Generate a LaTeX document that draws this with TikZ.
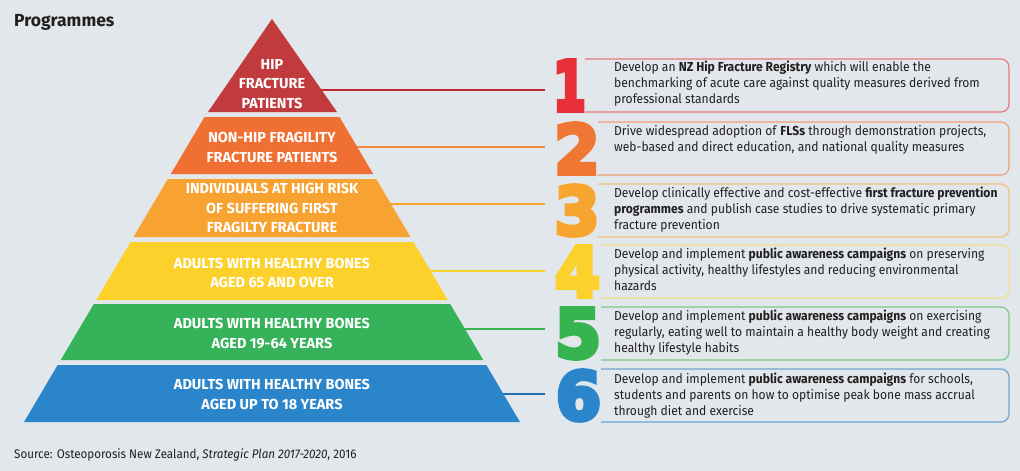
\documentclass[tikz,border=0pt]{standalone}
\usepackage{fontspec}
\setmainfont{Fira Sans}
\newfontfamily\bodyfont[FakeStretch=0.93]{Fira Sans}
\newfontfamily\tierfont{Fira Sans}
\newfontfamily\numfont[BoldFeatures={FakeBold=7}]{DejaVu Sans}
\definecolor{bg}{HTML}{E1E7EA}
\definecolor{ink}{HTML}{231F20}
\definecolor{tA}{HTML}{C13A3E}
\definecolor{tB}{HTML}{F07034}
\definecolor{tC}{HTML}{F7A231}
\definecolor{tD}{HTML}{FDD12B}
\definecolor{tE}{HTML}{36B25A}
\definecolor{tF}{HTML}{2A85CA}
\definecolor{nA}{HTML}{E8303A}
\definecolor{nB}{HTML}{F07634}
\definecolor{nC}{HTML}{F8A52F}
\definecolor{nD}{HTML}{FDD12B}
\definecolor{nE}{HTML}{35B44F}
\definecolor{nF}{HTML}{2A85CA}
\definecolor{bA}{HTML}{E8797C}
\definecolor{bB}{HTML}{EFA077}
\definecolor{bC}{HTML}{F3C17F}
\definecolor{bD}{HTML}{F5DE8A}
\definecolor{bE}{HTML}{7CC98A}
\definecolor{bF}{HTML}{6FA4D6}
\definecolor{lA}{HTML}{C0272D}
\definecolor{lB}{HTML}{F08A3A}
\definecolor{lC}{HTML}{F7A531}
\definecolor{lD}{HTML}{FDD12B}
\definecolor{lE}{HTML}{35B44F}
\definecolor{lF}{HTML}{1F6FB5}
\begin{document}
\begin{tikzpicture}[x=1pt,y=-1pt,
  tiertext/.style={text=white,align=center,inner sep=0pt,
    font=\tierfont\bfseries\fontsize{14.5}{19.5}\selectfont},
  boxtext/.style={text=ink,align=left,inner sep=0pt,anchor=north west,
    font=\bodyfont\fontsize{13}{16}\selectfont},
  numstyle/.style={inner sep=0pt,font=\numfont\bfseries},
  boxline/.style={line width=1.2pt,rounded corners=8pt},
  conn/.style={line width=2.2pt}]
\fill[bg] (0,0) rectangle (1020,471);
\useasboundingbox (0,0) rectangle (1020,471);
% title
\node[anchor=west,inner sep=0pt,text=ink,font=\bfseries\fontsize{17.5}{20}\selectfont] (title) at (14,22) {Programmes};
% connectors (behind pyramid)
\coordinate (pA) at (272,90);  \coordinate (eA) at (545,90);
\coordinate (pB) at (272,147); \coordinate (eB) at (545,147);
\coordinate (pC) at (272,204); \coordinate (eC) at (545,204);
\coordinate (pD) at (272,271); \coordinate (eD) at (545,271);
\coordinate (pE) at (272,329); \coordinate (eE) at (545,329);
\coordinate (pF) at (272,394); \coordinate (eF) at (545,394);
\draw[conn,lA] (pA) -- (eA);
\draw[conn,lB] (pB) -- (eB);
\draw[conn,lC] (pC) -- (eC);
\draw[conn,lD] (pD) -- (eD);
\draw[conn,lE] (pE) -- (eE);
\draw[conn,lF] (pF) -- (eF);
% pyramid tiers
\fill[tA] (272,19) -- (337,112) -- (208,112) -- cycle;
\fill[tB] (204.5,117) -- (339.5,117) -- (373.2,174) -- (170.8,174) -- cycle;
\fill[tC] (167.8,179) -- (376.2,179) -- (410.5,237) -- (133.5,237) -- cycle;
\fill[tD] (130.5,242) -- (413.5,242) -- (447.8,300) -- (96.2,300) -- cycle;
\fill[tE] (93.8,304) -- (450.2,304) -- (483.3,360) -- (60.7,360) -- cycle;
\fill[tF] (57.7,365) -- (486.3,365) -- (520,422) -- (24,422) -- cycle;
\node[tiertext] (tierA) at (272,84) {HIP\\FRACTURE\\PATIENTS};
\node[tiertext] (tierB) at (272,147.5) {NON-HIP FRAGILITY\\FRACTURE PATIENTS};
\node[tiertext] (tierC) at (272,208) {INDIVIDUALS AT HIGH RISK\\OF SUFFERING FIRST\\FRAGILTY FRACTURE};
\node[tiertext] (tierD) at (272,273) {ADULTS WITH HEALTHY BONES\\AGED 65 AND OVER};
\node[tiertext] (tierE) at (272,333.5) {ADULTS WITH HEALTHY BONES\\AGED 19-64 YEARS};
\node[tiertext] (tierF) at (272,394.5) {ADULTS WITH HEALTHY BONES\\AGED UP TO 18 YEARS};
% boxes
\draw[boxline,bA] (585,59) -- (1009,59) -- (1009,112) -- (585,112);
\draw[boxline,bB] (598,122) -- (1009,122) -- (1009,175) -- (597,175);
\draw[boxline,bC] (598,184) -- (1009,184) -- (1009,237) -- (598,237);
\draw[boxline,bD] (600,245) -- (1009,245) -- (1009,298) -- (600,298);
\draw[boxline,bE] (601,307) -- (1009,307) -- (1009,360) -- (601,360);
\draw[boxline,bF] (601,369) -- (1009,369) -- (1009,422) -- (601,422);
% numbers
\node[numstyle,text=nA] (nA) at (569.5,85.5) {\resizebox*{33pt}{50pt}{1}};
\node[numstyle,text=nB] (nB) at (577,148.5) {\resizebox*{45pt}{50pt}{2}};
\node[numstyle,text=nC] (nC) at (577,210.5) {\resizebox*{45pt}{50pt}{3}};
\node[numstyle,text=nD] (nD) at (577.5,271.5) {\resizebox*{45pt}{50pt}{4}};
\node[numstyle,text=nE] (nE) at (578,333.5) {\resizebox*{46pt}{50pt}{5}};
\node[numstyle,text=nF] (nF) at (578.5,395.5) {\resizebox*{45pt}{50pt}{6}};
% texts
\node[boxtext] (dA) at (614,61) {Develop an \textbf{NZ Hip Fracture Registry} which will enable the\\benchmarking of acute care against quality measures derived from\\professional standards};
\node[boxtext] (dB) at (614,125) {Drive widespread adoption of \textbf{FLSs} through demonstration projects,\\web-based and direct education, and national quality measures};
\node[boxtext] (dC) at (614,187) {Develop clinically effective and cost-effective \textbf{first fracture prevention}\\\textbf{programmes} and publish case studies to drive systematic primary\\fracture prevention};
\node[boxtext] (dD) at (614,248) {Develop and implement \textbf{public awareness campaigns} on preserving\\physical activity, healthy lifestyles and reducing environmental\\hazards};
\node[boxtext] (dE) at (614,310) {Develop and implement \textbf{public awareness campaigns} on exercising\\regularly, eating well to maintain a healthy body weight and creating\\healthy lifestyle habits};
\node[boxtext] (dF) at (614,373) {Develop and implement \textbf{public awareness campaigns} for schools,\\students and parents on how to optimise peak bone mass accrual\\through diet and exercise};
% source
\node[anchor=west,inner sep=0pt,text=ink,font=\bodyfont\fontsize{12.5}{14}\selectfont] (src) at (14,455) {Source: Osteoporosis New Zealand, \textit{Strategic Plan 2017-2020}, 2016};
\end{tikzpicture}
\end{document}
